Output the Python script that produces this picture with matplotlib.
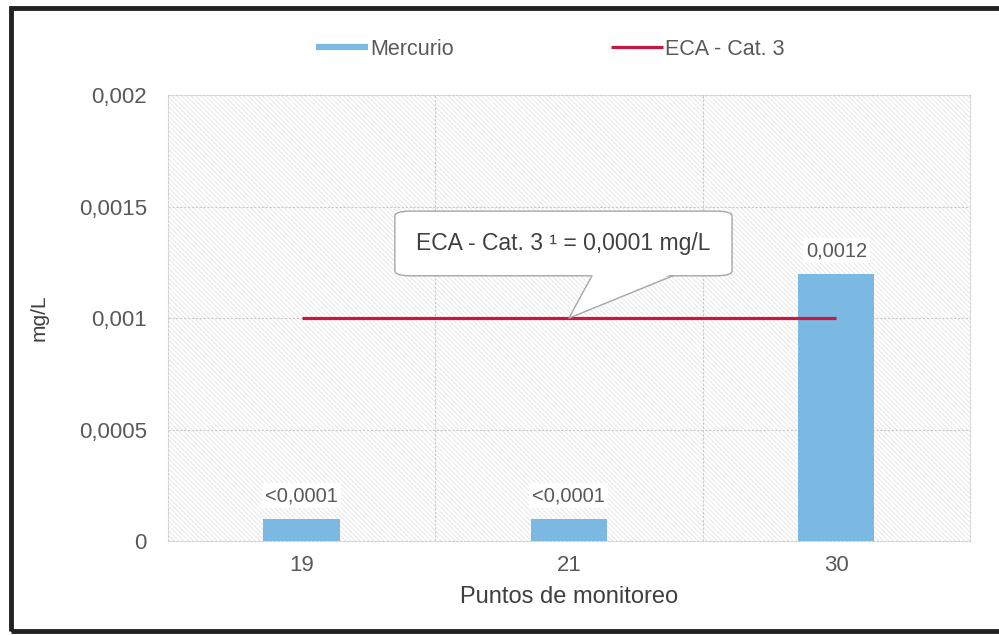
import numpy as np
import matplotlib.pyplot as plt
from matplotlib.patches import Rectangle, FancyBboxPatch, Polygon
from matplotlib.lines import Line2D

plt.rcParams['font.family'] = ['Liberation Sans', 'DejaVu Sans']
plt.rcParams['hatch.linewidth'] = 0.5
plt.rcParams['hatch.color'] = '#e0e0e0'

# monitoring points and mercury results (mg/L)
puntos = ['19', '21', '30']
mercurio = [0.0001, 0.0001, 0.0012]
etiquetas = ['<0,0001', '<0,0001', '0,0012']

# ECA category 3 reference line
eca_valor = 0.001
eca_texto = 'ECA - Cat. 3 \u00b9 = 0,0001 mg/L'

y_ticks = [0, 0.0005, 0.001, 0.0015, 0.002]
y_labels = ['0', '0,0005', '0,001', '0,0015', '0,002']

bar_color = '#7bb8e2'
eca_color = '#cc1642'
txt_gray = '#595959'

fig = plt.figure(figsize=(9.99, 6.35), dpi=100)
ax = fig.add_axes([0.168, 0.148, 0.803, 0.702])

x = np.arange(len(puntos))

# hatched plot background
bg = Rectangle((0, 0), 1, 1, transform=ax.transAxes, facecolor='white',
               hatch='\\\\\\\\\\\\\\', edgecolor='#e0e0e0', linewidth=0, zorder=0)
ax.add_patch(bg)

ax.bar(x, mercurio, width=0.285, color=bar_color, zorder=3)
ax.plot([x[0], x[-1]], [eca_valor, eca_valor], color=eca_color, lw=2.3,
        solid_capstyle='butt', zorder=4)

for xi, v, lab in zip(x, mercurio, etiquetas):
    ax.text(xi, v + 0.00006, lab, ha='center', va='bottom', fontsize=14.5,
            color=txt_gray, zorder=5,
            bbox=dict(boxstyle='square,pad=0.15', fc='white', ec='none'))

ax.set_xlim(-0.5, len(puntos) - 0.5)
ax.set_ylim(0, 0.002)
ax.set_xticks(x)
ax.set_xticklabels(puntos)
ax.set_yticks(y_ticks)
ax.set_yticklabels(y_labels)
ax.set_xticks(x[:-1] + 0.5, minor=True)
ax.tick_params(axis='both', which='both', length=0, labelsize=16,
               labelcolor=txt_gray)
ax.tick_params(axis='x', pad=10)
ax.tick_params(axis='y', pad=15)

ax.grid(True, which='major', axis='y', color='#c8c8c8', lw=0.8,
        linestyle=(0, (2, 1.5)), zorder=1)
ax.grid(True, which='minor', axis='x', color='#c8c8c8', lw=0.8,
        linestyle=(0, (2, 1.5)), zorder=1)
for s in ax.spines.values():
    s.set_color('#d2d2d2')
    s.set_linestyle((0, (2, 1.5)))
    s.set_linewidth(0.8)

ax.set_xlabel('Puntos de monitoreo', fontsize=17, color='#3f3f3f',
              labelpad=7)
ax.set_ylabel('mg/L', fontsize=15, color='#3f3f3f', labelpad=22)

# callout for the ECA line
bx0, bx1 = 0.349, 1.610
by0, by1 = 0.00119, 0.00148
box = FancyBboxPatch((bx0, by0), bx1 - bx0, by1 - by0,
                     boxstyle='round,pad=0,rounding_size=0.06',
                     mutation_aspect=0.002 / 3 * 0.55,
                     fc='white', ec='#a6a6a6', lw=1.0, zorder=6)
ax.add_patch(box)
tip = (x[1], eca_valor)
base_l, base_r = 1.086, 1.389
ptr = Polygon([(base_l, by0 + 0.00001), tip, (base_r, by0 + 0.00001)],
              closed=True, fc='white', ec='none', zorder=7)
ax.add_patch(ptr)
ax.plot([base_l, tip[0], base_r], [by0, tip[1], by0], color='#a6a6a6',
        lw=1.0, zorder=7)
ax.text((bx0 + bx1) / 2, (by0 + by1) / 2, eca_texto, ha='center',
        va='center', fontsize=16.5, color='#404040', zorder=8)

# legend across the top
handles = [Line2D([], [], color=bar_color, lw=4.5, solid_capstyle='butt'),
           Line2D([], [], color=eca_color, lw=2.3, solid_capstyle='butt')]
fig.legend(handles, ['Mercurio', 'ECA - Cat. 3'], loc='center',
           bbox_to_anchor=(0.551, 0.922), ncol=2, frameon=False,
           fontsize=15.5, handlelength=2.4, handletextpad=0.1,
           columnspacing=7.3, labelcolor=txt_gray)

# dark frame around the figure
frame = Rectangle((0.011, 0.006), 1.05, 0.981, transform=fig.transFigure,
                  fill=False, ec='#222222', lw=3.5, clip_on=False)
fig.patches.append(frame)

fig.savefig('out.png', dpi=100)
